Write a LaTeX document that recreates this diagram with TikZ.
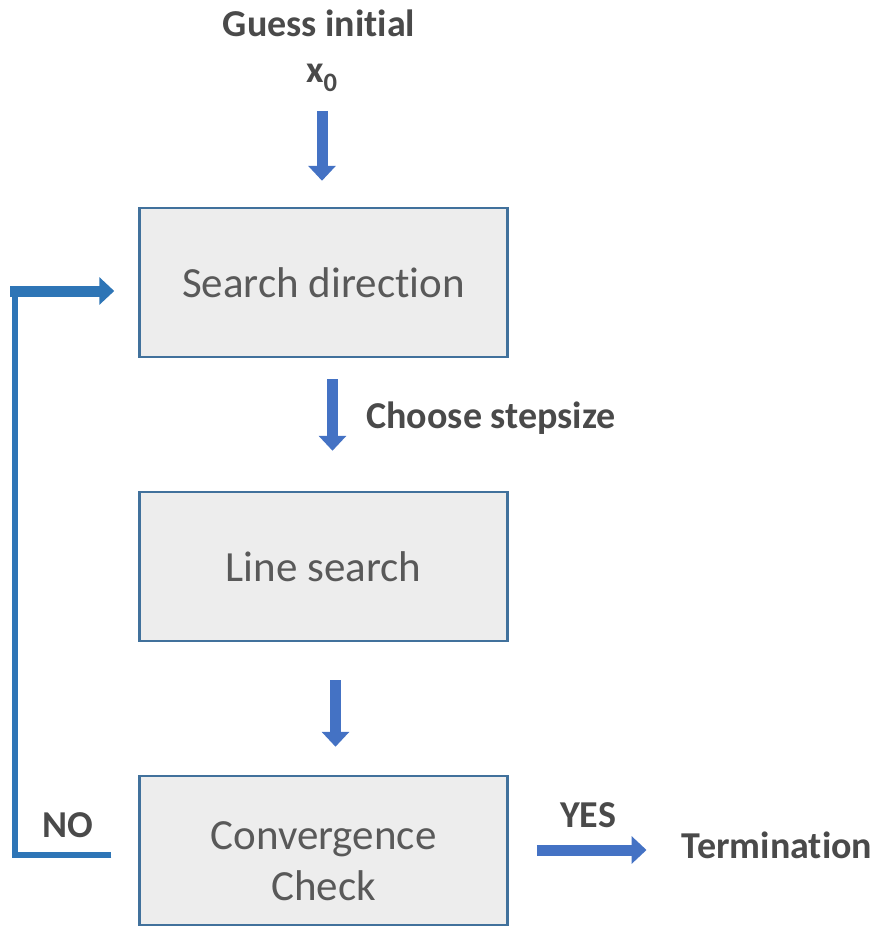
\documentclass[tikz,border=0pt]{standalone}
\usepackage{fontspec}
\setmainfont{Carlito}[Ligatures=NoCommon]
\usetikzlibrary{arrows.meta,positioning}
\definecolor{boxfill}{HTML}{EDEDED}
\definecolor{boxline}{HTML}{41719C}
\definecolor{arrowblue}{HTML}{4472C4}
\definecolor{loopblue}{HTML}{2E75B6}
\definecolor{textgray}{HTML}{595959}
\definecolor{labelgray}{HTML}{4A4A4A}

\begin{document}
\begin{tikzpicture}[x=1pt,y=1pt,node distance=284pt,
  main node/.style={rectangle,fill=boxfill,draw=boxline,line width=2.5pt,minimum width=368pt,minimum height=149pt,
    align=center,text=textgray,font=\fontsize{43}{51}\selectfont},
  label node/.style={text=labelgray,font=\fontsize{38}{44}\selectfont\bfseries,inner sep=0pt},
  block/.style={draw=arrowblue,line width=11pt,-{Triangle[width=27pt,length=15pt]}}]

 \useasboundingbox (0,0) rectangle (877,-927);

 \node[main node] (search) at (323.5,-282.5) {Search direction};
 \node[main node] (line) [below of=search] {Line search};
 \node[main node] (conv) [below of=line] {\raisebox{-21pt}[0pt][0pt]{\begin{tabular}{@{}c@{}}Convergence\\Check\end{tabular}}};

 \node[label node] (guess) at (319,-23) {Guess initial};
 \node[label node] (xzero) at (322,-78) {x\textsubscript{0}};
 \node[label node] (step) at (491,-418) {Choose stepsize};
 \node[label node] (no) at (68,-825) {NO};
 \node[label node] (yes) at (588,-815) {YES};
 \node[label node] (term) at (777,-845) {Termination};

 \coordinate (nocorner) at (15,-855);
 \coordinate (topcorner) at (15,-291);

 \draw[block,shorten <=19pt,shorten >=26pt] (xzero.south) -- (xzero.south |- search.north);
 \draw[block,shorten <=21pt,shorten >=40pt] ([xshift=9pt]search.south) -- ([xshift=9pt]search.south |- line.north);
 \draw[block,shorten <=38pt,shorten >=28pt] ([xshift=12pt]line.south) -- ([xshift=12pt]line.south |- conv.north);
 \draw[block,shorten <=28pt,shorten >=35pt] (conv.east |- 0,-850) -- (term.west |- 0,-850);

 \draw[loopblue,line width=6pt,shorten <=27pt] (conv.west |- nocorner) -- (nocorner) -- ([yshift=-3pt]topcorner);
 \draw[block,draw=loopblue,shorten >=24pt] ([xshift=-5pt]topcorner) -- (search.west |- topcorner);

\end{tikzpicture}
\end{document}
